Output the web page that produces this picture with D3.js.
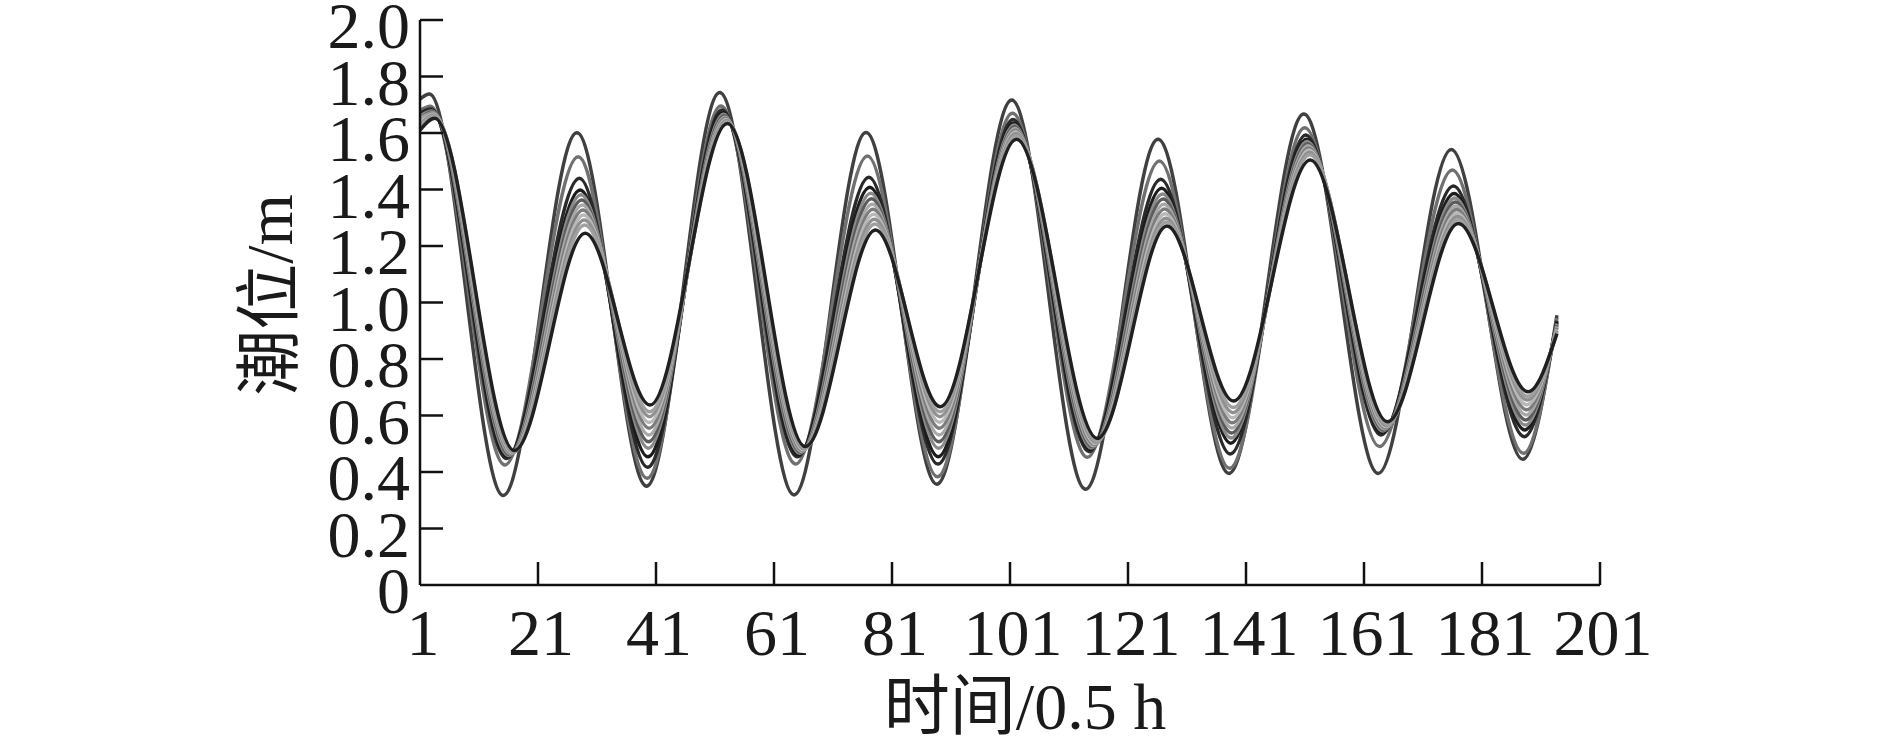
<!DOCTYPE html>
<html>
<head>
<meta charset="utf-8">
<script src="https://cdn.jsdelivr.net/npm/d3@7"></script>
<style>
  body { margin: 0; background: #fff; }
  text { font-family: "Liberation Serif", "Noto Sans CJK SC", serif; fill: #1a1a1a; }
</style>
</head>
<body>
<div id="chart-container"></div>
<script>
// --- DATA ---
// times (in 0.5 h steps) of start, each high/low water, and end
const timesOuter = [1, 2.6, 15.1, 27.6, 39.4, 51.8, 64.4, 76.6, 88.6, 101.3, 113.8, 126.1, 138.1, 150.8, 163.4, 175.8, 187.9, 193.7];
const timesInner = [1, 3.5, 17.0, 29.0, 40.0, 53.1, 66.3, 78.2, 89.2, 102.1, 115.8, 127.6, 138.9, 151.9, 165.0, 177.0, 188.8, 193.7];
// how far each curve sits between the leading (outer) and lagging (inner) curve
const lagShare = [0, 0.15, 0.3, 0.4, 0.5, 0.58, 0.66, 0.74, 0.81, 0.88, 0.94, 1];

// tide levels (m) at the times above, one array per curve
const s0 = [1.72, 1.738, 0.317, 1.601, 0.350, 1.743, 0.319, 1.602, 0.357, 1.717, 0.339, 1.578, 0.395, 1.667, 0.395, 1.542, 0.445, 0.955];
const s1 = [1.68, 1.695, 0.425, 1.516, 0.378, 1.696, 0.428, 1.519, 0.383, 1.670, 0.452, 1.501, 0.413, 1.619, 0.490, 1.469, 0.466, 0.945];
const s2 = [1.67, 1.685, 0.448, 1.440, 0.417, 1.681, 0.454, 1.443, 0.428, 1.648, 0.472, 1.436, 0.464, 1.593, 0.531, 1.412, 0.525, 0.935];
const s3 = [1.66, 1.680, 0.455, 1.398, 0.454, 1.672, 0.462, 1.408, 0.454, 1.635, 0.480, 1.404, 0.502, 1.578, 0.540, 1.386, 0.549, 0.930];
const s4 = [1.66, 1.678, 0.458, 1.381, 0.484, 1.666, 0.466, 1.387, 0.484, 1.628, 0.485, 1.384, 0.520, 1.570, 0.545, 1.370, 0.566, 0.925];
const s5 = [1.65, 1.675, 0.461, 1.363, 0.507, 1.661, 0.470, 1.367, 0.507, 1.622, 0.489, 1.366, 0.538, 1.562, 0.549, 1.356, 0.584, 0.920];
const s6 = [1.65, 1.672, 0.464, 1.345, 0.531, 1.656, 0.473, 1.348, 0.531, 1.616, 0.493, 1.348, 0.556, 1.555, 0.553, 1.342, 0.602, 0.915];
const s7 = [1.64, 1.670, 0.466, 1.327, 0.555, 1.652, 0.476, 1.330, 0.555, 1.610, 0.497, 1.331, 0.574, 1.547, 0.557, 1.329, 0.620, 0.910];
const s8 = [1.64, 1.667, 0.468, 1.310, 0.575, 1.648, 0.479, 1.312, 0.576, 1.604, 0.501, 1.314, 0.592, 1.540, 0.561, 1.316, 0.638, 0.905];
const s9 = [1.63, 1.664, 0.470, 1.292, 0.596, 1.644, 0.482, 1.295, 0.596, 1.598, 0.505, 1.298, 0.610, 1.532, 0.565, 1.304, 0.655, 0.900];
const s10 = [1.63, 1.660, 0.472, 1.274, 0.613, 1.640, 0.485, 1.278, 0.613, 1.590, 0.510, 1.285, 0.628, 1.523, 0.570, 1.293, 0.668, 0.895];
const s11 = [1.61, 1.652, 0.476, 1.245, 0.637, 1.634, 0.490, 1.257, 0.631, 1.578, 0.519, 1.271, 0.651, 1.504, 0.578, 1.280, 0.684, 0.890];

const seriesList = [s0, s1, s2, s3, s4, s5, s6, s7, s8, s9, s10, s11];
const seriesColors = ["#404040", "#707070", "#2a2a2a", "#1c1c1c", "#8a8a8a", "#5c5c5c",
                      "#a8a8a8", "#7c7c7c", "#b8b8b8", "#909090", "#a0a0a0", "#202020"];

const xTicks = [21, 41, 61, 81, 101, 121, 141, 161, 181, 201];
const xTickLabels = [1, 21, 41, 61, 81, 101, 121, 141, 161, 181, 201];
const yTicks = [0.2, 0.4, 0.6, 0.8, 1.0, 1.2, 1.4, 1.6, 1.8, 2.0];
const yTickLabels = [0, 0.2, 0.4, 0.6, 0.8, 1.0, 1.2, 1.4, 1.6, 1.8, 2.0];

// --- SETUP ---
const totalWidth = 1889;
const totalHeight = 740;
const margin = { top: 20, left: 420 };
const chartWidth = 1180;
const chartHeight = 565;

const svg = d3
  .select("#chart-container")
  .append("svg")
  .attr("width", totalWidth)
  .attr("height", totalHeight)
  .append("g")
  .attr("transform", `translate(${margin.left},${margin.top})`);

// --- SCALES ---
const x = d3.scaleLinear().domain([1, 201]).range([0, chartWidth]);
const y = d3.scaleLinear().domain([0, 2]).range([chartHeight, 0]);

// --- LINES ---
const line = d3
  .line()
  .x((d) => x(d.t))
  .y((d) => y(d.v))
  .curve(d3.curveMonotoneX);

seriesList.forEach((vals, i) => {
  const pts = vals.map((v, k) => ({
    t: timesOuter[k] + (timesInner[k] - timesOuter[k]) * lagShare[i],
    v: v,
  }));
  svg
    .append("path")
    .datum(pts)
    .attr("fill", "none")
    .attr("stroke", seriesColors[i])
    .attr("stroke-width", 3.5)
    .attr("stroke-linejoin", "round")
    .attr("d", line);
});

// --- AXES ---
const axisColor = "#111";

// y axis: line + inward ticks
svg.append("line")
  .attr("x1", 0).attr("x2", 0)
  .attr("y1", y(2)).attr("y2", y(0))
  .attr("stroke", axisColor).attr("stroke-width", 2.5);

svg.selectAll(".ytick")
  .data(yTicks)
  .enter()
  .append("line")
  .attr("x1", 0).attr("x2", 23)
  .attr("y1", (d) => y(d)).attr("y2", (d) => y(d))
  .attr("stroke", axisColor).attr("stroke-width", 2.5);

svg.selectAll(".ylabel")
  .data(yTickLabels)
  .enter()
  .append("text")
  .attr("x", -10)
  .attr("y", (d) => y(d) + 28)
  .attr("text-anchor", "end")
  .style("font-size", "66px")
  .text((d) => (d === 0 ? "0" : d3.format(".1f")(d)));

// x axis: line + upward ticks
svg.append("line")
  .attr("x1", x(1)).attr("x2", x(201))
  .attr("y1", chartHeight).attr("y2", chartHeight)
  .attr("stroke", axisColor).attr("stroke-width", 2.5);

svg.selectAll(".xtick")
  .data(xTicks)
  .enter()
  .append("line")
  .attr("x1", (d) => x(d)).attr("x2", (d) => x(d))
  .attr("y1", chartHeight).attr("y2", chartHeight - 23)
  .attr("stroke", axisColor).attr("stroke-width", 2.5);

svg.selectAll(".xlabel")
  .data(xTickLabels)
  .enter()
  .append("text")
  .attr("x", (d) => x(d) + 3)
  .attr("y", chartHeight + 70)
  .attr("text-anchor", "middle")
  .style("font-size", "66px")
  .text((d) => d);

// --- AXIS TITLES ---
svg.append("text")
  .attr("x", 1025 - margin.left)
  .attr("y", 729 - margin.top)
  .attr("text-anchor", "middle")
  .style("font-size", "66px")
  .text("时间/0.5 h");

svg.append("text")
  .attr("transform", `translate(${292 - margin.left},${295 - margin.top}) rotate(-90)`)
  .attr("text-anchor", "middle")
  .style("font-size", "66px")
  .text("潮位/m");
</script>
</body>
</html>
